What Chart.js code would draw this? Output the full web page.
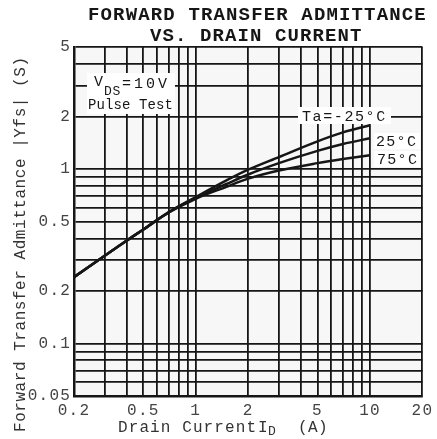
<!DOCTYPE html>
<html>
<head>
<meta charset="utf-8">
<script src="https://cdn.jsdelivr.net/npm/chart.js@4/dist/chart.umd.min.js"></script>
<style>
  body { margin: 0; background: #fff; }
  #wrap { width: 437px; height: 439px; }
</style>
</head>
<body>
<div id="wrap"><canvas id="yfsChart"></canvas></div>
<script>
// drain current (A) and |Yfs| (S)
var currents = [0.2, 0.3, 0.4, 0.5, 0.7, 1, 1.5, 2, 3, 5, 7, 10];
var yfsMinus25 = [0.24, 0.318, 0.388, 0.45, 0.566, 0.69, 0.86, 0.99, 1.17, 1.44, 1.62, 1.78];
var yfs25 = [0.24, 0.318, 0.388, 0.45, 0.565, 0.683, 0.82, 0.93, 1.08, 1.27, 1.39, 1.5];
var yfs75 = [0.24, 0.318, 0.388, 0.45, 0.563, 0.675, 0.79, 0.88, 0.98, 1.08, 1.14, 1.2];

// log paper grid lines and labelled ticks
var xGrid = [0.2, 0.3, 0.4, 0.5, 0.6, 0.7, 0.8, 0.9, 1, 2, 3, 4, 5, 6, 7, 8, 9, 10, 20];
var xLabels = [0.2, 0.5, 1, 2, 5, 10, 20];
var yGrid = [0.05, 0.06, 0.07, 0.08, 0.09, 0.1, 0.2, 0.3, 0.4, 0.5, 0.6, 0.7, 0.8, 0.9, 1, 2, 3, 4, 5];
var yLabels = [0.05, 0.1, 0.2, 0.5, 1, 2, 5];

var MONO = '"Liberation Mono", "DejaVu Sans Mono", monospace';
var INK = '#161616';

function toPoints(ys) {
  return currents.map(function (x, i) { return { x: x, y: ys[i] }; });
}

function curve(label, ys) {
  return {
    label: label,
    data: toPoints(ys),
    borderColor: INK,
    borderWidth: 2.5,
    pointRadius: 0,
    cubicInterpolationMode: 'monotone',
    fill: false
  };
}

// typewriter style text: one char per fixed pitch
function typeText(ctx, txt, x, y, pitch) {
  for (var i = 0; i < txt.length; i++) {
    ctx.fillText(txt[i], x + i * pitch, y);
  }
}

function whiteBox(ctx, x, y, w, h) {
  ctx.fillStyle = '#fff';
  ctx.fillRect(x, y, w, h);
  ctx.fillStyle = INK;
}

var paperPlugin = {
  id: 'paper',
  beforeDraw: function (chart) {
    var ctx = chart.ctx, a = chart.chartArea;
    ctx.fillStyle = '#fff';
    ctx.fillRect(0, 0, chart.width, chart.height);
    ctx.fillStyle = '#f7f7f7';
    ctx.fillRect(a.left, a.top, a.right - a.left, a.bottom - a.top);
    ctx.letterSpacing = '1.2px';
  },
  afterDatasetsDraw: function (chart) {
    var ctx = chart.ctx;
    ctx.save();
    ctx.letterSpacing = '0px';
    ctx.textBaseline = 'alphabetic';
    ctx.textAlign = 'left';

    // V_DS = 10V / Pulse Test
    whiteBox(ctx, 87, 73, 88, 41);
    ctx.font = '15px ' + MONO;
    typeText(ctx, 'V', 94, 86, 10);
    ctx.font = '13px ' + MONO;
    typeText(ctx, 'DS', 104, 95, 8.5);
    ctx.font = '15px ' + MONO;
    typeText(ctx, '=10V', 122, 88, 12);
    ctx.font = '14px ' + MONO;
    typeText(ctx, 'Pulse Test', 88, 109, 8.5);

    ctx.font = '15px ' + MONO;
    whiteBox(ctx, 298, 107, 93, 17);
    typeText(ctx, 'Ta=-25°C', 302, 121, 10.6);
    whiteBox(ctx, 374, 133, 46, 16);
    typeText(ctx, '25°C', 376, 146, 10.3);
    whiteBox(ctx, 374, 151, 46, 16);
    typeText(ctx, '75°C', 377, 164, 10.3);
    ctx.restore();
  },
  afterDraw: function (chart) {
    var ctx = chart.ctx;
    ctx.save();
    ctx.letterSpacing = '0px';
    ctx.fillStyle = INK;
    ctx.textBaseline = 'alphabetic';
    ctx.textAlign = 'left';

    // chart title
    ctx.font = 'bold 19px ' + MONO;
    typeText(ctx, 'FORWARD TRANSFER ADMITTANCE', 88, 20, 12.55);
    typeText(ctx, 'VS. DRAIN CURRENT', 150, 41, 12.5);

    // x axis title with subscript
    ctx.fillStyle = '#333';
    ctx.font = '16px ' + MONO;
    typeText(ctx, 'Drain Current', 118, 432, 10.7);
    typeText(ctx, 'I', 258, 432, 10);
    ctx.font = '13px ' + MONO;
    typeText(ctx, 'D', 268, 435, 9);
    ctx.font = '16px ' + MONO;
    typeText(ctx, '(A)', 298, 432, 10);

    // y axis title
    ctx.translate(25, 432);
    ctx.rotate(-Math.PI / 2);
    typeText(ctx, 'Forward Transfer Admittance |Yfs| (S)', 0, 0, 10.15);
    ctx.restore();
  }
};

var ctx = document.getElementById('yfsChart');
if (ctx) {
  var yfsChart = new Chart(ctx, {
    type: 'line',
    data: {
      datasets: [
        curve('Ta=-25°C', yfsMinus25),
        curve('25°C', yfs25),
        curve('75°C', yfs75)
      ]
    },
    options: {
      responsive: true,
      maintainAspectRatio: false,
      animation: false,
      layout: {
        padding: { top: 47, right: 12, left: 0, bottom: 0 }
      },
      plugins: {
        legend: { display: false },
        title: { display: false },
        tooltip: { enabled: false }
      },
      scales: {
        x: {
          type: 'logarithmic',
          min: 0.2,
          max: 20,
          afterBuildTicks: function (scale) {
            scale.ticks = xGrid.map(function (v) { return { value: v }; });
          },
          afterFit: function (scale) { scale.height = 43; },
          ticks: {
            autoSkip: false,
            maxRotation: 0,
            padding: 5,
            color: '#444',
            font: { family: MONO, size: 16 },
            callback: function (v) { return xLabels.indexOf(v) >= 0 ? String(v) : ''; }
          },
          grid: { color: INK, lineWidth: 1.8, drawTicks: false },
          border: { display: true, color: INK, width: 2.5 }
        },
        y: {
          type: 'logarithmic',
          min: 0.05,
          max: 5,
          afterBuildTicks: function (scale) {
            scale.ticks = yGrid.map(function (v) { return { value: v }; });
          },
          afterFit: function (scale) { scale.width = 74; },
          ticks: {
            autoSkip: false,
            padding: 3,
            color: '#444',
            font: { family: MONO, size: 16 },
            callback: function (v) { return yLabels.indexOf(v) >= 0 ? String(v) : ''; }
          },
          grid: { color: INK, lineWidth: 1.8, drawTicks: false },
          border: { display: true, color: INK, width: 2.5 }
        }
      }
    },
    plugins: [paperPlugin]
  });
}
</script>
</body>
</html>
